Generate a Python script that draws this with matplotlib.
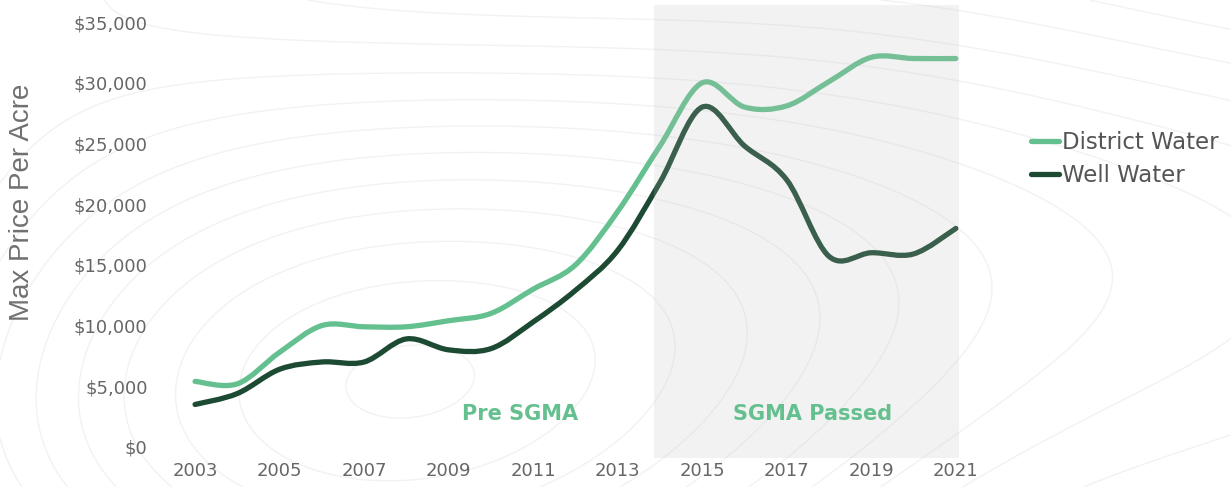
import numpy as np
import matplotlib
matplotlib.use("Agg")
import matplotlib.pyplot as plt
from matplotlib.path import Path
from matplotlib.patches import PathPatch
from matplotlib.lines import Line2D
from matplotlib.ticker import FuncFormatter

# data
years = list(range(2003, 2022))
district_water = [5400, 5200, 7800, 10000, 9900, 9900, 10400, 11000, 13000, 15000,
                  19400, 24800, 30000, 28000, 28100, 30100, 32100, 32000, 32000]
well_water = [3500, 4400, 6400, 7000, 7000, 8900, 8000, 8100, 10300, 12900,
              16200, 21800, 28000, 24800, 22000, 15700, 16000, 15900, 18000]
sgma_start, sgma_end = 2013.85, 2021.08

light_green = "#65c08f"
dark_green = "#1d4a33"
text_grey = "#666666"


def smooth_path(xs, ys):
    # catmull-rom style bezier through the yearly points
    pts = np.column_stack([xs, ys]).astype(float)
    ext = np.vstack([pts[0], pts, pts[-1]])
    verts = [tuple(pts[0])]
    codes = [Path.MOVETO]
    for i in range(1, len(ext) - 2):
        p0, p1, p2, p3 = ext[i - 1], ext[i], ext[i + 1], ext[i + 2]
        c1 = p1 + (p2 - p0) / 6
        c2 = p2 - (p3 - p1) / 6
        verts += [tuple(c1), tuple(c2), tuple(p2)]
        codes += [Path.CURVE4] * 3
    return Path(verts, codes)


fig = plt.figure(figsize=(12.31, 4.87), dpi=100)

# faint topographic-style background
bg = fig.add_axes([0, 0, 1, 1], zorder=0)
gx, gy = np.meshgrid(np.linspace(0, 1.0, 300), np.linspace(0, 1.0, 200))
field = (np.sin(2.6 * gx + 1.4 * gy) + 0.7 * np.cos(3.4 * gy - 2.0 * gx)
         + 0.5 * np.sin(6.0 * gx) * np.cos(2.0 * gy))
bg.contour(gx, gy, field, levels=16, colors="#f2f2f2", linewidths=1.0,
           linestyles="solid")
bg.set_xlim(0, 1)
bg.set_ylim(0, 1)
bg.axis("off")

ax = fig.add_axes([0.1413, 0.0598, 0.6379, 0.9297], zorder=1)
ax.set_facecolor("none")

ax.add_patch(PathPatch(smooth_path(years, district_water), fill=False,
                       edgecolor=light_green, lw=3.8, capstyle="round", zorder=3))
ax.add_patch(PathPatch(smooth_path(years, well_water), fill=False,
                       edgecolor=dark_green, lw=3.8, capstyle="round", zorder=3))

# grey band drawn over the lines, like the original
ax.axvspan(sgma_start, sgma_end, color="#bebebe", alpha=0.19, lw=0, zorder=4)

ax.set_xlim(2002.5, 2021.08)
ax.set_ylim(-900, 36400)
ax.set_xticks(range(2003, 2022, 2))
ax.set_yticks(range(0, 35001, 5000))
ax.yaxis.set_major_formatter(FuncFormatter(lambda v, p: f"${v:,.0f}"))
ax.tick_params(length=0, labelsize=13, labelcolor=text_grey)
ax.tick_params(axis="y", pad=19)
ax.tick_params(axis="x", pad=3)
for lab in ax.get_xticklabels() + ax.get_yticklabels():
    lab.set_family("DejaVu Sans")

for s in ax.spines.values():
    s.set_visible(False)

fig.text(0.018, 0.585, "Max Price Per Acre", rotation=90, ha="center", va="center",
         fontsize=20, color="#707070", family="Liberation Sans")

ax.text(2010.7, 2700, "Pre SGMA", ha="center", va="center", fontsize=15,
        fontweight="bold", color=light_green, family="DejaVu Sans", zorder=5)
ax.text(2017.6, 2700, "SGMA Passed", ha="center", va="center", fontsize=15,
        fontweight="bold", color=light_green, family="DejaVu Sans", zorder=5)

handles = [Line2D([], [], color=light_green, lw=3.8, solid_capstyle="round"),
           Line2D([], [], color=dark_green, lw=3.8, solid_capstyle="round")]
leg = fig.legend(handles, ["District Water", "Well Water"], loc="center left",
                 bbox_to_anchor=(0.821, 0.673), frameon=False,
                 handlelength=1.2, handletextpad=0.12, labelspacing=0.45,
                 prop={"family": "DejaVu Sans", "size": 16.5})
for t in leg.get_texts():
    t.set_color("#555555")

fig.savefig("out.png", dpi=100)
